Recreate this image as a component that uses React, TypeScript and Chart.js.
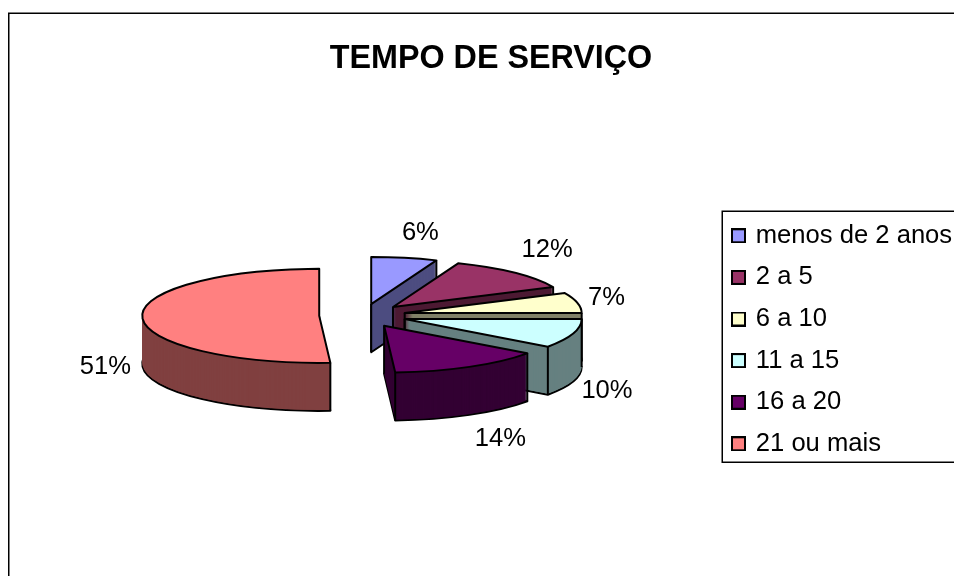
import React, { useEffect, useRef } from "react";
import { Chart, registerables } from "chart.js";

Chart.register(...registerables);

const titleText = "TEMPO DE SERVIÇO";
const categories = ["menos de 2 anos", "2 a 5", "6 a 10", "11 a 15", "16 a 20", "21 ou mais"];
const percentages = [6, 12, 7, 10, 14, 51];
const topColors = ["#9999FF", "#993366", "#FFFFCC", "#CCFFFF", "#660066", "#FF8080"];
const wallColors = ["#4D4D80", "#4D1A33", "#808066", "#668080", "#330033", "#804040"];
const explodeBySlice = [43.8, 43.8, 42.7, 43.8, 43.8, 43.8];
const FONT = "'Liberation Sans', Arial, sans-serif";

const RADIUS = 177;
const SQUASH = 47 / 177;
const DEPTH = 48;
const PIE_CENTER_X = 363;
const PIE_CENTER_Y = 315.5;
const paintOrder = [5, 0, 1, 2, 3, 4];
const labelNudge = [[16, -24.5], [33, -22.5], [29, -4.5], [34, 57.5], [31, 72.5], [-37, 49.5]];

function swatch(color: string) {
  const c = document.createElement("canvas");
  c.width = 15;
  c.height = 15;
  const g = c.getContext("2d")!;
  g.fillStyle = "#000";
  g.fillRect(0, 0, 15, 15);
  g.fillStyle = color;
  g.fillRect(2, 2, 11, 11);
  return c;
}

function geometry(arc: any, i: number) {
  const p = arc.getProps(["x", "y", "startAngle", "endAngle", "outerRadius"], true);
  const mid = (p.startAngle + p.endAngle) / 2;
  const e = explodeBySlice[i];
  return {
    ...p,
    mid,
    dx: Math.cos(mid) * e,
    dy: Math.sin(mid) * e,
    ax: p.x + Math.cos(mid) * e,
    ay: p.y + Math.sin(mid) * e,
  };
}

function squashed(ctx: CanvasRenderingContext2D, g: any, dy: number, build: () => void) {
  ctx.save();
  ctx.translate(0, dy);
  ctx.translate(g.x, g.y);
  ctx.scale(1, SQUASH);
  ctx.translate(-g.x, -g.y);
  build();
  ctx.restore();
}

function slicePath(ctx: CanvasRenderingContext2D, g: any) {
  ctx.beginPath();
  ctx.moveTo(g.ax, g.ay);
  ctx.arc(g.ax, g.ay, g.outerRadius, g.startAngle, g.endAngle);
  ctx.closePath();
}

const pie3d = {
  id: "pie3d",
  afterLayout(chart: any) {
    const area = chart.chartArea;
    area.left = PIE_CENTER_X - 200;
    area.right = PIE_CENTER_X + 200;
    area.top = PIE_CENTER_Y - 200;
    area.bottom = PIE_CENTER_Y + 200;
    area.width = 400;
    area.height = 400;
    const title = chart.titleBlock;
    title.left = 0;
    title.right = 982;
    title.top = 39.8;
    const legend = chart.legend;
    const w = legend.width;
    const h = legend.height;
    legend.left = 718;
    legend.right = 718 + w;
    legend.top = 207;
    legend.bottom = 207 + h;
  },
  beforeDraw(chart: any) {
    const ctx = chart.ctx;
    ctx.save();
    ctx.fillStyle = "#fff";
    ctx.fillRect(0, 0, chart.width, chart.height);
    ctx.strokeStyle = "#000";
    ctx.lineWidth = 1.5;
    ctx.strokeRect(8.75, 13.25, 1100, 800);
    ctx.strokeRect(722.25, 211.25, 400, 251);
    ctx.restore();
  },
  beforeDatasetsDraw(chart: any) {
    const ctx: CanvasRenderingContext2D = chart.ctx;
    const arcs = chart.getDatasetMeta(0).data;
    ctx.save();
    ctx.lineWidth = 2;
    ctx.strokeStyle = "#000";
    ctx.lineJoin = "round";
    for (const i of paintOrder) {
      const arc = arcs[i];
      const g = geometry(arc, i);
      squashed(ctx, g, DEPTH, () => slicePath(ctx, g));
      ctx.fillStyle = wallColors[i];
      ctx.fill();
      ctx.stroke();
      for (let d = DEPTH - 1; d > 0; d--) {
        squashed(ctx, g, d, () => slicePath(ctx, g));
        ctx.fill();
      }
      const yOf = (y: number) => g.y + (y - g.y) * SQUASH;
      const startFaceSeen = Math.cos(g.startAngle) < 0;
      const endFaceSeen = Math.cos(g.endAngle) > 0;
      const corners = [
        { x: g.ax, y: g.ay, seen: startFaceSeen || endFaceSeen },
        {
          x: g.ax + Math.cos(g.startAngle) * g.outerRadius,
          y: g.ay + Math.sin(g.startAngle) * g.outerRadius,
          seen: startFaceSeen || Math.sin(g.startAngle) > 0,
        },
        {
          x: g.ax + Math.cos(g.endAngle) * g.outerRadius,
          y: g.ay + Math.sin(g.endAngle) * g.outerRadius,
          seen: endFaceSeen || Math.sin(g.endAngle) > 0,
        },
      ];
      ctx.beginPath();
      for (const c of corners) {
        if (!c.seen) continue;
        ctx.moveTo(c.x, yOf(c.y));
        ctx.lineTo(c.x, yOf(c.y) + DEPTH);
      }
      ctx.stroke();
      squashed(ctx, g, 0, () => {
        ctx.translate(g.dx, g.dy);
        arc.draw(ctx);
      });
      squashed(ctx, g, 0, () => slicePath(ctx, g));
      ctx.stroke();
    }
    ctx.restore();
    return false;
  },
  afterDraw(chart: any) {
    const ctx: CanvasRenderingContext2D = chart.ctx;
    const arcs = chart.getDatasetMeta(0).data;
    ctx.save();
    ctx.fillStyle = "#000";
    ctx.font = `25.6px ${FONT}`;
    ctx.textAlign = "center";
    ctx.textBaseline = "middle";
    percentages.forEach((v, i) => {
      const g = geometry(arcs[i], i);
      const rimX = g.ax + Math.cos(g.mid) * g.outerRadius;
      const rimY = g.y + (g.ay + Math.sin(g.mid) * g.outerRadius - g.y) * SQUASH;
      ctx.fillText(`${v}%`, rimX + labelNudge[i][0], rimY + labelNudge[i][1]);
    });
    ctx.restore();
  },
};

export default function App() {
  const ref = useRef<HTMLCanvasElement>(null);
  useEffect(() => {
    const chart = new Chart(ref.current!, {
      type: "pie",
      data: {
        labels: categories,
        datasets: [
          {
            data: percentages,
            backgroundColor: topColors,
            borderWidth: 0,
          },
        ],
      },
      options: {
        responsive: false,
        animation: false,
        radius: RADIUS,
        devicePixelRatio: 1,
        plugins: {
          tooltip: { enabled: false },
          title: {
            display: true,
            text: titleText,
            color: "#000",
            padding: 0,
            font: { family: FONT, size: 32.3, weight: "bold", lineHeight: 1.2 },
          },
          legend: {
            display: true,
            position: "right",
            align: "start",
            labels: {
              color: "#000",
              font: { family: FONT, size: 25.6 },
              padding: 16,
              usePointStyle: true,
              pointStyleWidth: 9,
              boxHeight: 15,
              generateLabels: () =>
                categories.map((text, i) => ({
                  text,
                  fillStyle: topColors[i],
                  strokeStyle: "#000",
                  lineWidth: 1,
                  pointStyle: swatch(topColors[i]),
                  hidden: false,
                  index: i,
                })),
            },
          },
        },
      } as any,
      plugins: [pie3d as any],
    });
    return () => chart.destroy();
  }, []);
  return (
    <div style={{ position: "fixed", left: 0, top: 0, width: 954, height: 576, overflow: "hidden", background: "#fff" }}>
      <canvas ref={ref} width={954} height={576} style={{ display: "block" }} />
    </div>
  );
}
